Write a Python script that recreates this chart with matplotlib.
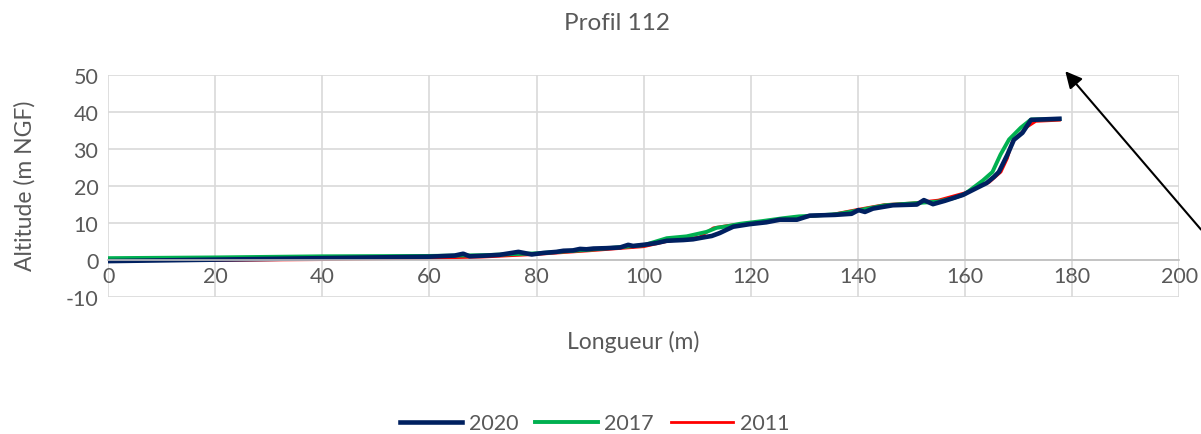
import matplotlib.pyplot as plt
import numpy as np

plt.rcParams['font.family'] = ['Lato', 'DejaVu Sans']
plt.rcParams['axes.unicode_minus'] = False

# Profil 112 - altitude along the profile, three surveys
x2020 = [0, 10, 20, 30, 40, 50, 55, 60, 64.7, 66.3, 67.5, 70.7, 73.1, 76.6, 79.1,
         81.2, 83.7, 85.0, 86.8, 88.1, 89.3, 90.6, 93, 95.6, 97.1, 98.0, 100.5,
         102.4, 104.3, 107.4, 109.2, 111.1, 112.7, 114.2, 115.5, 116.7, 119.8,
         122.9, 125.4, 128.6, 131.0, 135.7, 138.8, 140.1, 141.3, 142.8, 146.5,
         151.0, 152.3, 154.0, 156.2, 159.6, 162.2, 164.0, 165.4, 166.3, 167.9,
         169.1, 170.7, 172.3, 177.6]
y2020 = [-0.3, -0.1, 0.1, 0.3, 0.5, 0.7, 0.8, 0.9, 1.2, 1.7, 1.0, 1.2, 1.4, 2.2, 1.5,
         1.9, 2.2, 2.5, 2.6, 3.0, 2.9, 3.1, 3.2, 3.4, 4.1, 3.8, 4.2,
         4.6, 5.2, 5.4, 5.6, 6.1, 6.5, 7.3, 8.2, 9.0, 9.7,
         10.2, 10.9, 10.9, 12.0, 12.2, 12.5, 13.5, 13.0, 13.9, 14.8,
         15.0, 16.2, 15.1, 16.0, 17.6, 19.5, 20.8, 22.5, 23.8, 28.5,
         32.5, 34.4, 37.9, 38.2]

x2017 = [0, 20, 40, 60, 70, 80, 90, 100, 104.3, 108, 111.7, 113.6, 115.5, 118, 122,
         126, 129, 132, 136, 140, 145, 150, 152, 155, 158, 160, 163.3, 165.1,
         166.6, 168.2, 170.4, 172.3, 177.6]
y2017 = [0.5, 0.7, 1.0, 1.1, 1.3, 1.8, 2.8, 4.0, 5.9, 6.4, 7.6, 8.7, 9.1, 9.8, 10.5,
         11.3, 11.8, 12.0, 12.4, 13.4, 14.8, 15.3, 15.5, 15.8, 16.8, 17.9, 21.5, 23.8,
         28.5, 32.6, 35.8, 38.0, 38.1]

x2011 = [0, 20, 40, 60, 70, 80, 90, 100, 104.3, 110.4, 113, 115.5, 120, 125, 130,
         135, 140, 145, 150, 155, 160, 164.5, 166.7, 167.9, 168.8, 171.6, 173.2, 177.6]
y2011 = [-0.2, -0.1, 0.1, 0.5, 0.8, 1.5, 2.5, 3.6, 5.0, 6.2, 8.7, 9.3, 10.0, 11.0, 11.6,
         12.3, 13.7, 15.0, 15.4, 16.2, 18.2, 21.0, 23.8, 27.5, 32.0, 36.0, 37.5, 37.8]

grey = '#595959'

fig = plt.figure(figsize=(12.01, 4.35), dpi=100)
ax = fig.add_axes([0.090, 0.315, 0.892, 0.510])

l11, = ax.plot(x2011, y2011, color='#FF0000', lw=2.0, label='2011')
l17, = ax.plot(x2017, y2017, color='#00B050', lw=2.8, label='2017')
l20, = ax.plot(x2020, y2020, color='#002060', lw=3.3, label='2020')

ax.set_xlim(0, 200)
ax.set_ylim(-10, 50)
ax.set_xticks(np.arange(0, 201, 20))
ax.set_yticks(np.arange(-10, 51, 10))
ax.grid(True, color='#d9d9d9', lw=1.2)
ax.set_axisbelow(True)
for s in ['top', 'right', 'left']:
    ax.spines[s].set_visible(False)
ax.spines['bottom'].set_position(('data', 0))
ax.spines['bottom'].set_color('#bfbfbf')
ax.spines['bottom'].set_linewidth(1.2)
ax.tick_params(length=0, labelsize=15.5, colors=grey)
ax.tick_params(axis='x', pad=4)
ax.tick_params(axis='y', pad=7)

fig.text(0.514, 0.945, 'Profil 112', ha='center', va='center', fontsize=17.5, color=grey)
fig.text(0.527, 0.214, 'Longueur (m)', ha='center', va='center', fontsize=16.5, color=grey)
fig.text(0.021, 0.572, 'Altitude (m NGF)', ha='center', va='center', rotation=90,
         fontsize=16.5, color=grey)

fig.legend(handles=[l20, l17, l11], loc='center', bbox_to_anchor=(0.495, 0.025),
           ncol=3, frameon=False, fontsize=15.5, handlelength=2.9, columnspacing=0.8,
           handletextpad=0.3, labelcolor=grey)

ax.annotate('', xy=(0.887, 0.834), xycoords='figure fraction',
            xytext=(1.0, 0.47), textcoords='figure fraction',
            arrowprops=dict(arrowstyle='-|>', color='black', lw=1.5,
                            mutation_scale=25, shrinkA=0, shrinkB=0),
            annotation_clip=False)

fig.savefig('out.png', dpi=100)
